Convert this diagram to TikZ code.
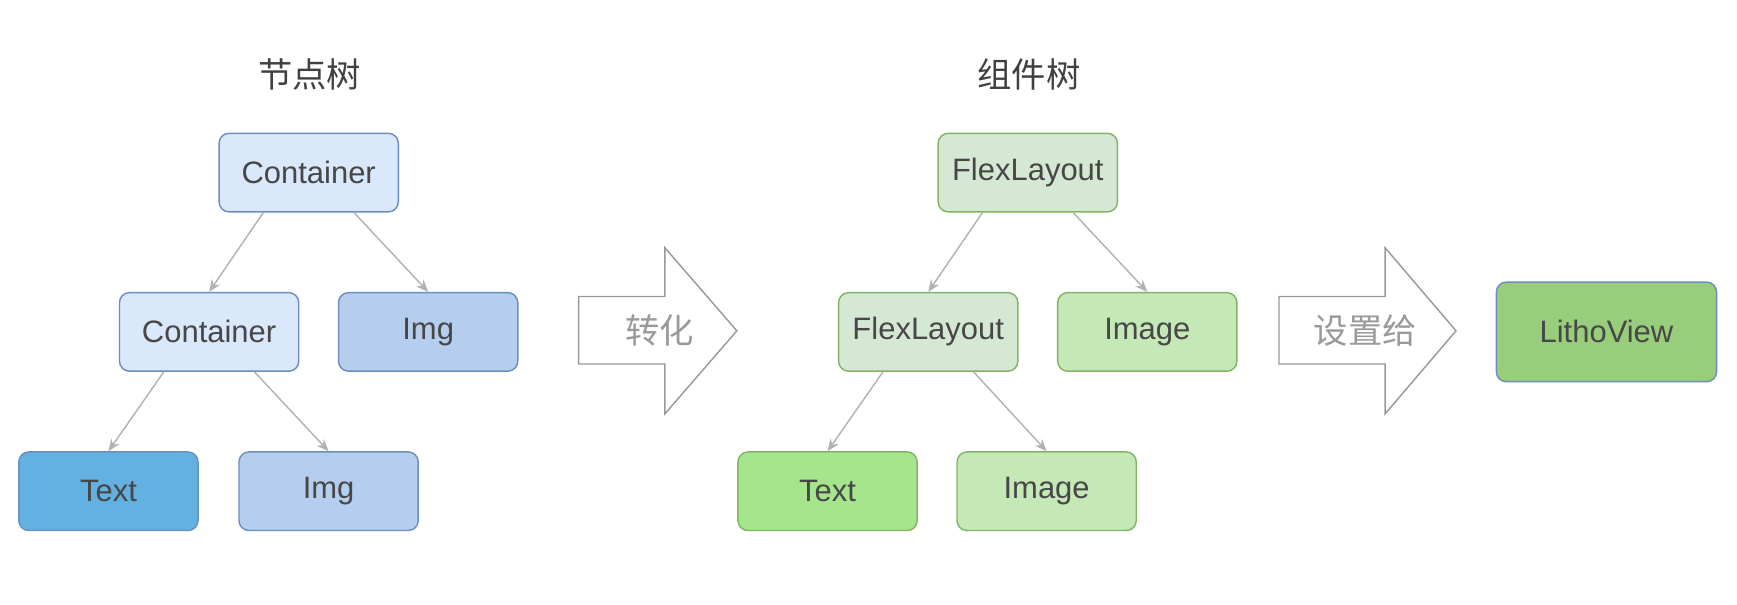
\documentclass[tikz,border=0pt]{standalone}
\usepackage{fontspec}
\setmainfont{Liberation Sans}
\newfontfamily\cjk{Noto Sans CJK SC}
\usetikzlibrary{arrows.meta}
\begin{document}
\begin{tikzpicture}[x=1pt,y=-1pt,
 box/.style={draw, rounded corners=9pt, minimum width=162pt, minimum height=71pt, line width=1.3pt, text=black!72, font=\fontsize{28}{32}\selectfont, inner sep=0pt},
 conn/.style={draw=black!30, line width=1.3pt, -{Stealth[length=11pt,width=9pt]}},
 bigarrow/.style={draw=black!40, line width=1.3pt, fill=white},
 ttl/.style={font=\cjk\fontsize{31}{34}\selectfont, text=black!75}]
\useasboundingbox (0,0) rectangle (1570,546);
\definecolor{bf}{HTML}{DAE8FC}\definecolor{bs}{HTML}{6C8EBF}
\definecolor{bimg}{HTML}{B5CEEE}\definecolor{btxt}{HTML}{62B1E0}
\definecolor{gf}{HTML}{D5E8D4}\definecolor{gs}{HTML}{82B366}
\definecolor{gimg}{HTML}{C5E8B7}\definecolor{gtxt}{HTML}{A5E58C}
\definecolor{lv}{HTML}{98CD7C}
\node[ttl] (t1) at (280,67) {节点树};
\node[ttl] (t2) at (930,67) {组件树};
\node[box, draw=bs, fill=bf] (c1) at (279,156) {Container};
\node[box, draw=bs, fill=bf] (c2) at (189,300) {Container};
\node[box, draw=bs, fill=bimg] (i1) at (387,300) {Img};
\node[box, draw=bs, fill=btxt] (tx1) at (98,444) {Text};
\node[box, draw=bs, fill=bimg] (i2) at (297,444) {Img};
\draw[conn] ([xshift=-41pt]c1.south) -- (c2.north);
\draw[conn] ([xshift=41pt]c1.south) -- (i1.north);
\draw[conn] ([xshift=-41pt]c2.south) -- (tx1.north);
\draw[conn] ([xshift=41pt]c2.south) -- (i2.north);
\node[box, draw=gs, fill=gf] (f1) at (929,156) {FlexLayout};
\node[box, draw=gs, fill=gf] (f2) at (839,300) {FlexLayout};
\node[box, draw=gs, fill=gimg] (im1) at (1037,300) {Image};
\node[box, draw=gs, fill=gtxt] (tx2) at (748,444) {Text};
\node[box, draw=gs, fill=gimg] (im2) at (946,444) {Image};
\draw[conn] ([xshift=-41pt]f1.south) -- (f2.north);
\draw[conn] ([xshift=41pt]f1.south) -- (im1.north);
\draw[conn] ([xshift=-41pt]f2.south) -- (tx2.north);
\draw[conn] ([xshift=41pt]f2.south) -- (im2.north);
\draw[bigarrow] (523,268) -- (601,268) -- (601,224) -- (666,299) -- (601,374) -- (601,329) -- (523,329) -- cycle;
\node[ttl, text=black!40] (a1) at (596,299) {转化};
\draw[bigarrow] (1156,268) -- (1252,268) -- (1252,224) -- (1316,299) -- (1252,374) -- (1252,329) -- (1156,329) -- cycle;
\node[ttl, text=black!40] (a2) at (1234,299) {设置给};
\node[box, draw=bs, fill=lv, minimum width=199pt, minimum height=90pt] (lv) at (1452,300) {LithoView};
\end{tikzpicture}
\end{document}
